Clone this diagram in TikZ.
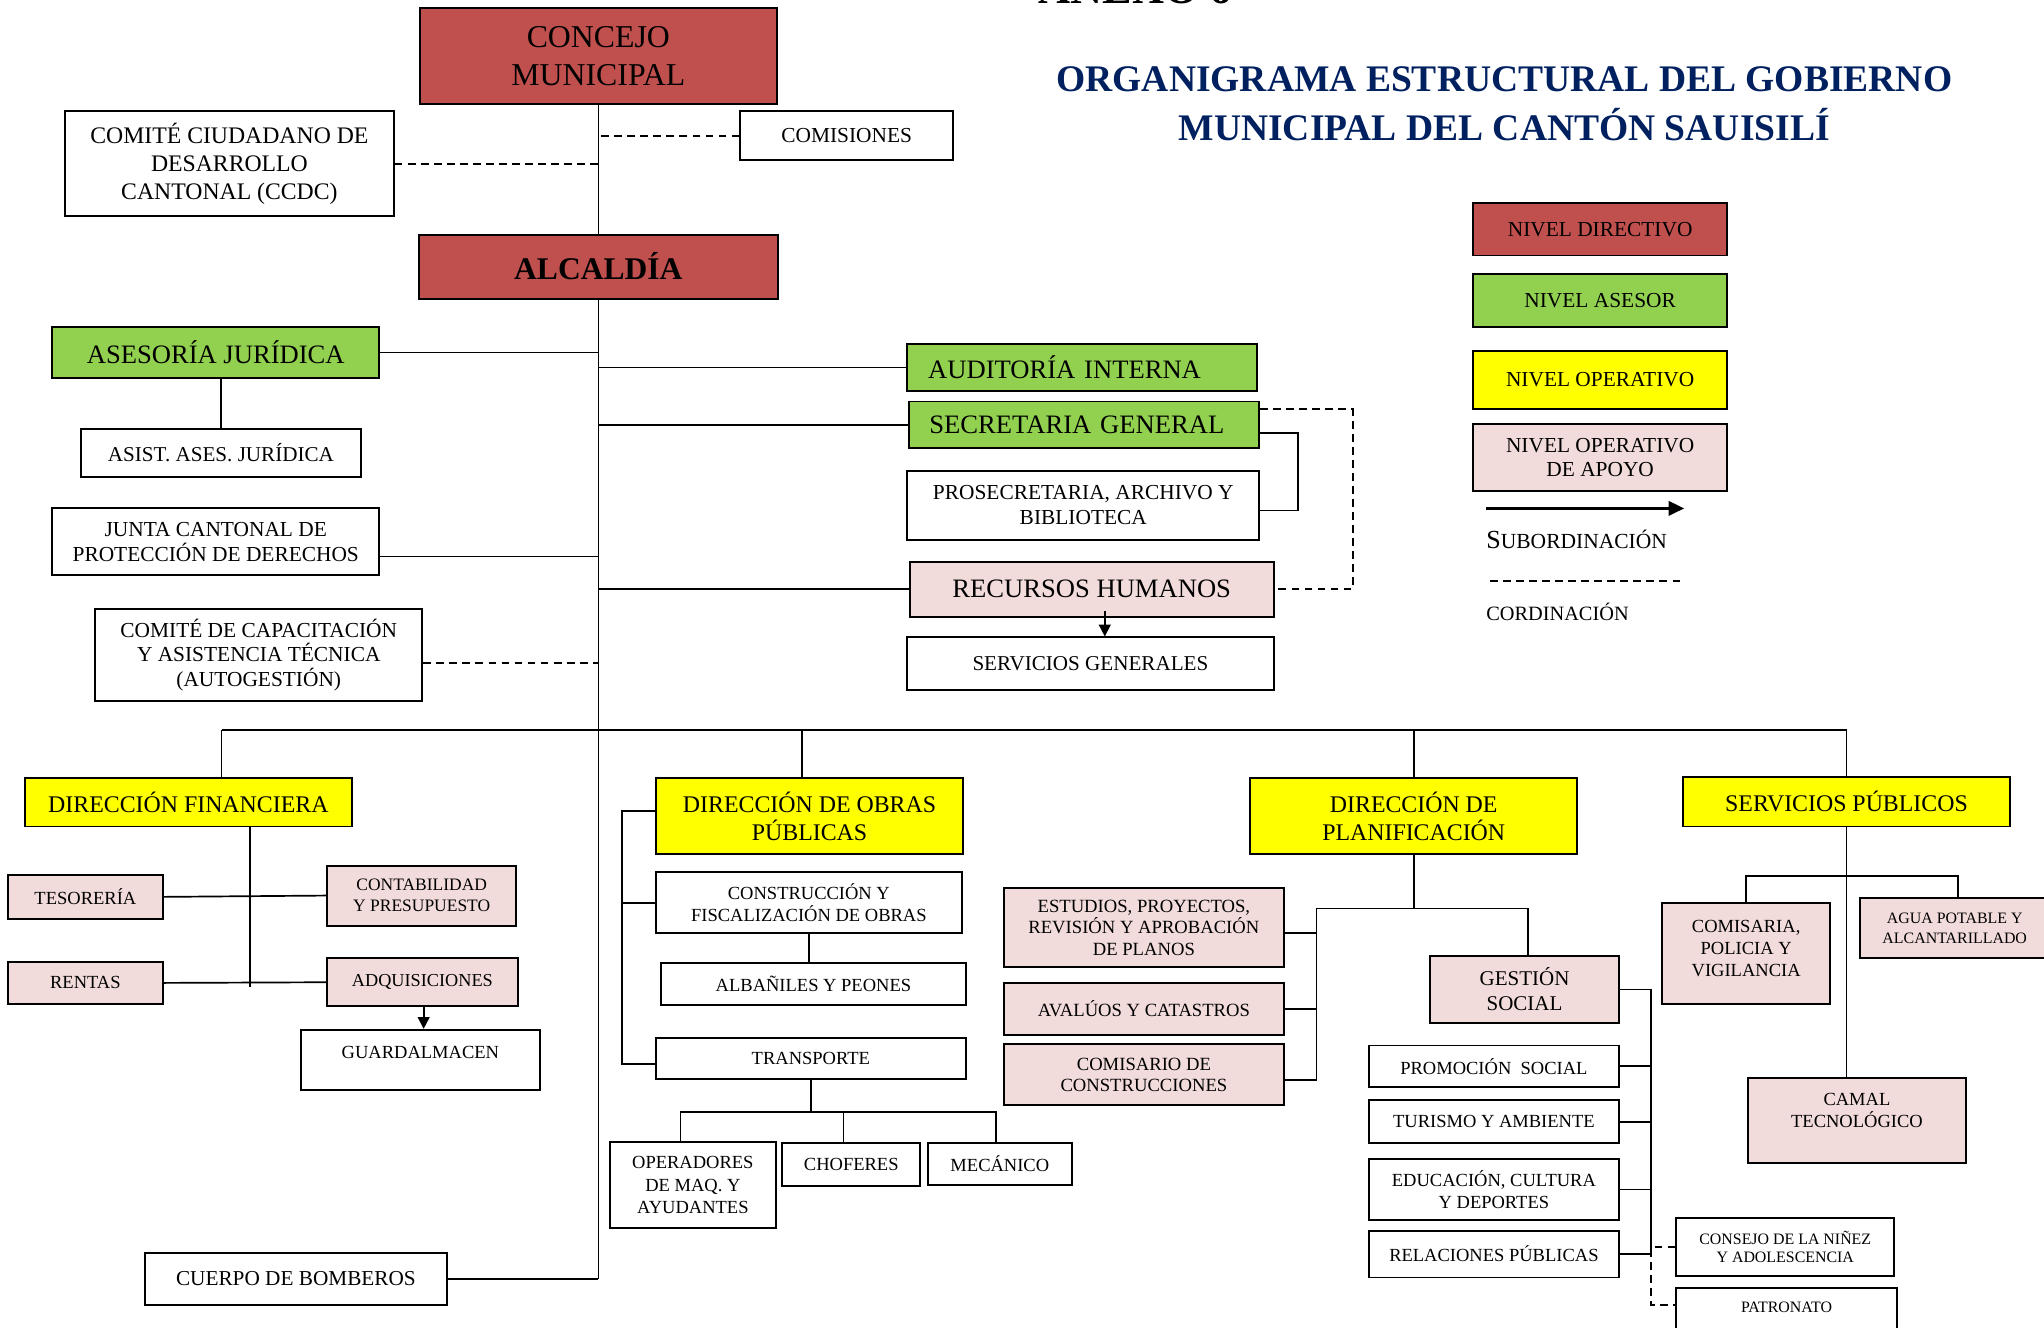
\documentclass[tikz,border=0pt]{standalone}
\usepackage{fontspec}
\setmainfont{Liberation Serif}
\usetikzlibrary{arrows.meta}
\definecolor{rojo}{HTML}{C0504D}
\definecolor{verde}{HTML}{92D050}
\definecolor{amarillo}{HTML}{FFFF00}
\definecolor{rosa}{HTML}{F2DCDB}
\definecolor{azul}{HTML}{002060}

\begin{document}
\begin{tikzpicture}[x=1pt,y=-1pt,
	caja/.style={draw,line width=1.5pt,align=center,inner sep=0pt},
	linea/.style={line width=1.3pt},
	coord/.style={line width=1.5pt,dash pattern=on 6pt off 4pt},
	flecha/.style={line width=1.3pt,-{Triangle[length=9pt,width=9pt]}}]
	\newcommand{\tam}[2]{\fontsize{#1}{#2}\selectfont}
	\useasboundingbox (0,0) rectangle (1568,1018);
	\clip (0,0) rectangle (1568,1018);
	% titulo
	\node[anchor=base,font=\tam{34}{40}\bfseries] (anexo) at (871,3) {ANEXO 6};
	\node[anchor=base,font=\tam{28.8}{34}\bfseries,text=azul] (tit1) at (1154,70.5) {ORGANIGRAMA ESTRUCTURAL DEL GOBIERNO};
	\node[anchor=base,font=\tam{28.8}{34}\bfseries,text=azul] (tit2) at (1154,107.5) {MUNICIPAL DEL CANTÓN SAUISILÍ};
	% nivel directivo
	\node[caja,fill=rojo,minimum width=274pt,minimum height=74pt,font=\tam{24.4}{29}] (concejo) at (459,43) {CONCEJO\\MUNICIPAL};
	\node[caja,minimum width=252pt,minimum height=81pt,font=\tam{18.2}{21.5}] (ccdc) at (176,125.5) {COMITÉ CIUDADANO DE\\DESARROLLO\\CANTONAL (CCDC)};
	\node[caja,minimum width=163pt,minimum height=38pt,font=\tam{16.4}{19}] (comisiones) at (649.5,104) {COMISIONES};
	\node[caja,fill=rojo,minimum width=275pt,minimum height=49pt,font=\tam{24.2}{28}\bfseries] (alcaldia) at (459,204.5) {ALCALDÍA};
	% asesores
	\node[caja,fill=verde,minimum width=251pt,minimum height=39pt,font=\tam{20.4}{24}] (asesoria) at (165.5,270.5) {ASESORÍA JURÍDICA};
	\node[caja,minimum width=215pt,minimum height=37pt,font=\tam{16.2}{19}] (asist) at (169.5,347.5) {ASIST. ASES. JURÍDICA};
	\node[caja,minimum width=251pt,minimum height=51pt,font=\tam{16.4}{19}] (junta) at (165.5,415.5) {JUNTA CANTONAL DE\\PROTECCIÓN DE DERECHOS};
	\node[caja,minimum width=251pt,minimum height=71pt,font=\tam{16.4}{19}] (comitecap) at (198.5,502.5) {COMITÉ DE CAPACITACIÓN\\Y ASISTENCIA TÉCNICA\\(AUTOGESTIÓN)};
	\node[caja,fill=verde,inner xsep=16pt,text width=236pt,align=left,minimum height=36pt,font=\tam{20.4}{24}] (auditoria) at (830,282) {AUDITORÍA INTERNA};
	\node[caja,fill=verde,inner xsep=16pt,text width=237pt,align=left,minimum height=36pt,font=\tam{20.4}{24}] (secretaria) at (831.5,326) {SECRETARIA GENERAL};
	\node[caja,minimum width=270pt,minimum height=53pt,font=\tam{16.4}{19}] (prosec) at (831,387.5) {PROSECRETARIA, ARCHIVO Y\\BIBLIOTECA};
	\node[caja,fill=rosa,minimum width=279pt,minimum height=42pt,font=\tam{20.4}{24}] (rrhh) at (837.5,452) {RECURSOS HUMANOS};
	\node[caja,minimum width=281pt,minimum height=40pt,font=\tam{16.2}{19}] (servgen) at (836.5,509) {SERVICIOS GENERALES};
	% leyenda
	\node[caja,fill=rojo,minimum width=195pt,minimum height=40pt,font=\tam{16.4}{19}] (leyDir) at (1227.5,176) {NIVEL DIRECTIVO};
	\node[caja,fill=verde,minimum width=195pt,minimum height=41pt,font=\tam{16.4}{19}] (leyAse) at (1227.5,230.5) {NIVEL ASESOR};
	\node[caja,fill=amarillo,minimum width=195pt,minimum height=45pt,font=\tam{16.4}{19}] (leyOpe) at (1227.5,291.5) {NIVEL OPERATIVO};
	\node[caja,fill=rosa,minimum width=195pt,minimum height=52pt,font=\tam{16.4}{19}] (leyApo) at (1227.5,351) {NIVEL OPERATIVO\\DE APOYO};
	\coordinate (subA) at (1140,390);
	\coordinate (subB) at (1292,390);
	\draw[line width=2pt,-{Triangle[length=12pt,width=11pt]}] (subA) -- (subB);
	\node[anchor=base west,inner sep=0pt] (subord) at (1140,421) {{\tam{20}{24}S}{\tam{16.5}{20}UBORDINACIÓN}};
	\coordinate (corA) at (1143,446);
	\coordinate (corB) at (1290,446);
	\draw[coord] (corA) -- (corB);
	\node[anchor=base west,inner sep=0pt,font=\tam{15.6}{19}] (cordin) at (1140,476) {CORDINACIÓN};
	% direcciones
	\node[caja,fill=amarillo,minimum width=251pt,minimum height=37pt,font=\tam{18.3}{21.5}] (financiera) at (144.5,615.5) {DIRECCIÓN FINANCIERA};
	\node[caja,fill=rosa,minimum width=119pt,minimum height=34pt,font=\tam{14.2}{17}] (tesoreria) at (65.5,688) {TESORERÍA};
	\node[caja,fill=rosa,minimum width=145pt,minimum height=46pt,font=\tam{13.4}{16}] (contabilidad) at (323.5,687) {CONTABILIDAD\\Y PRESUPUESTO};
	\node[caja,fill=rosa,minimum width=119pt,minimum height=32pt,font=\tam{14.2}{17}] (rentas) at (65.5,754) {RENTAS};
	\node[caja,fill=rosa,minimum width=146pt,minimum height=37pt,font=\tam{14}{17}] (adquisiciones) at (324,753.5) {ADQUISICIONES};
	\node[caja,minimum width=183pt,minimum height=46pt,text depth=12pt,font=\tam{14.2}{17}] (guardalmacen) at (322.5,813) {GUARDALMACEN};
	\node[caja,fill=amarillo,minimum width=236pt,minimum height=58pt,font=\tam{18.3}{21.5}] (obras) at (621,626) {DIRECCIÓN DE OBRAS\\PÚBLICAS};
	\node[caja,minimum width=235pt,minimum height=47pt,font=\tam{14.2}{16.5}] (construccion) at (620.5,692.5) {CONSTRUCCIÓN Y\\FISCALIZACIÓN DE OBRAS};
	\node[caja,minimum width=234pt,minimum height=32pt,font=\tam{14.2}{17}] (albaniles) at (624,755) {ALBAÑILES Y PEONES};
	\node[caja,minimum width=238pt,minimum height=32pt,font=\tam{14.2}{17}] (transporte) at (622,812) {TRANSPORTE};
	\node[caja,minimum width=127pt,minimum height=66pt,font=\tam{14.2}{17}] (operadores) at (531.5,909) {OPERADORES\\DE MAQ. Y\\AYUDANTES};
	\node[caja,minimum width=106pt,minimum height=33pt,font=\tam{14.2}{17}] (choferes) at (653,893.5) {CHOFERES};
	\node[caja,minimum width=110pt,minimum height=32pt,font=\tam{14.2}{17}] (mecanico) at (767,893) {MECÁNICO};
	\node[caja,minimum width=232pt,minimum height=40pt,font=\tam{16.3}{19}] (bomberos) at (227,981) {CUERPO DE BOMBEROS};
	\node[caja,fill=amarillo,minimum width=251pt,minimum height=58pt,font=\tam{18.3}{21.5}] (planificacion) at (1084.5,626) {DIRECCIÓN DE\\PLANIFICACIÓN};
	\node[caja,fill=rosa,minimum width=215pt,minimum height=61pt,font=\tam{14.3}{16.5}] (estudios) at (877.5,711.5) {ESTUDIOS, PROYECTOS,\\REVISIÓN Y APROBACIÓN\\DE PLANOS};
	\node[caja,fill=rosa,minimum width=215pt,minimum height=40pt,font=\tam{14.3}{17}] (avaluos) at (877.5,774) {AVALÚOS Y CATASTROS};
	\node[caja,fill=rosa,minimum width=215pt,minimum height=47pt,font=\tam{14.3}{16.5}] (comisario) at (877.5,824.5) {COMISARIO DE\\CONSTRUCCIONES};
	\node[caja,fill=rosa,minimum width=145pt,minimum height=52pt,font=\tam{16.1}{19}] (gestion) at (1169.5,759) {GESTIÓN\\SOCIAL};
	\node[caja,minimum width=192pt,minimum height=32pt,font=\tam{14.2}{17}] (promocion) at (1146,818) {PROMOCIÓN~ SOCIAL};
	\node[caja,minimum width=192pt,minimum height=33pt,font=\tam{14.2}{17}] (turismo) at (1146,860.5) {TURISMO Y AMBIENTE};
	\node[caja,minimum width=192pt,minimum height=47pt,font=\tam{14.2}{17}] (educacion) at (1146,912.5) {EDUCACIÓN, CULTURA\\Y DEPORTES};
	\node[caja,minimum width=192pt,minimum height=36pt,font=\tam{14.2}{17}] (relaciones) at (1146,962) {RELACIONES PÚBLICAS};
	\node[caja,minimum width=167pt,minimum height=45pt,font=\tam{12.2}{14.5}] (consejo) at (1369.5,956.5) {CONSEJO DE LA NIÑEZ\\Y ADOLESCENCIA};
	\node[caja,minimum width=169pt,minimum height=36pt,text depth=6pt,font=\tam{12.2}{14.5}] (patronato) at (1370.5,1006) {PATRONATO};
	\node[caja,fill=amarillo,minimum width=251pt,minimum height=38pt,font=\tam{18.3}{21.5}] (servpublicos) at (1416.5,615) {SERVICIOS PÚBLICOS};
	\node[caja,fill=rosa,minimum width=129pt,minimum height=77pt,text depth=8pt,font=\tam{14.2}{16.5}] (comisaria) at (1339.5,731.5) {COMISARIA,\\POLICIA Y\\VIGILANCIA};
	\node[caja,fill=rosa,minimum width=145pt,minimum height=46pt,font=\tam{12.2}{15}] (agua) at (1499.5,712) {AGUA POTABLE Y\\ALCANTARILLADO};
	\node[caja,fill=rosa,minimum width=167pt,minimum height=65pt,text depth=16pt,font=\tam{14.2}{17}] (camal) at (1424.5,859.5) {CAMAL\\TECNOLÓGICO};
	% tronco
	\draw[linea] (concejo.south) -- (concejo.south |- alcaldia.north);
	\draw[coord] (comisiones.west) -- (comisiones.west -| concejo.south);
	\draw[coord] (ccdc.east) -- (ccdc.east -| concejo.south);
	\coordinate (base) at (bomberos.east -| alcaldia.south);
	\draw[linea] (alcaldia.south) -- (base);
	\draw[linea] (bomberos.east) -- (base);
	\draw[linea] (asesoria.east) -- (asesoria.east -| alcaldia.south);
	\draw[linea] (asesoria.south -| asist.north) -- (asist.north);
	\draw[linea] ([yshift=-11.5pt]junta.east) coordinate (j) -- (j -| alcaldia.south);
	\draw[coord] ([yshift=-6pt]comitecap.east) coordinate (k) -- (k -| alcaldia.south);
	\draw[linea] (auditoria.west) -- (auditoria.west -| alcaldia.south);
	\draw[linea] (secretaria.west) -- (secretaria.west -| alcaldia.south);
	\draw[linea] (rrhh.west) -- (rrhh.west -| alcaldia.south);
	\draw[linea] ([yshift=-6pt]secretaria.east) -- ++(29,0) |- ([yshift=-4pt]prosec.east);
	\draw[coord] ([yshift=12pt]secretaria.east) -- ++(71,0) |- (rrhh.east);
	\draw[flecha] ([xshift=10pt,yshift=5pt]rrhh.south) coordinate (r) -- (r |- servgen.north);
	% barra de direcciones
	\coordinate (dF) at (170,560);
	\coordinate (dO) at (615,560);
	\coordinate (dP) at (planificacion.north |- dF);
	\coordinate (dS) at (servpublicos.north |- dF);
	\draw[linea] (dF) -- (dS);
	\draw[linea] (dF) -- (dF |- financiera.north);
	\draw[linea] (dO) -- (dO |- obras.north);
	\draw[linea] (dP) -- (planificacion.north);
	\draw[linea] (dS) -- (servpublicos.north);
	% financiera
	\coordinate (fin) at (192,634);
	\draw[linea] (fin) -- ([yshift=-3pt]fin |- rentas.east);
	\draw[linea] (tesoreria.east) -- (contabilidad.west);
	\draw[linea] (rentas.east) -- (adquisiciones.west);
	\draw[flecha] ([xshift=1pt]adquisiciones.south) coordinate (q) -- (q |- guardalmacen.north);
	% obras publicas
	\draw[linea] ([yshift=4pt]obras.west) -- ++(-25,0) coordinate (ox) |- ([yshift=-4pt]transporte.west);
	\draw[linea] (construccion.west) -- (construccion.west -| ox);
	\draw[linea] (construccion.south) -- (construccion.south |- albaniles.north);
	\coordinate (tb) at (623,853);
	\draw[linea] (tb -| transporte.south) -- (transporte.south);
	\draw[linea] ([xshift=-9.5pt]operadores.north) |- (tb) -| ([xshift=-3pt]mecanico.north);
	\draw[linea] ([xshift=-6pt]choferes.north) coordinate (c) -- (c |- tb);
	% planificacion
	\coordinate (pl) at (1010,697);
	\draw[linea] (planificacion.south) -- (planificacion.south |- pl);
	\draw[linea] ([xshift=2.5pt]gestion.north) |- (pl) |- ([yshift=-4pt]comisario.east);
	\draw[linea] ([yshift=-4pt]estudios.east) -- ([yshift=-4pt]estudios.east -| pl);
	\draw[linea] (avaluos.east) -- (avaluos.east -| pl);
	\draw[linea] (gestion.east) -- ++(24,0) coordinate (gx) |- (relaciones.east);
	\draw[linea] (promocion.east) -- (promocion.east -| gx);
	\draw[linea] (turismo.east) -- (turismo.east -| gx);
	\draw[linea] (educacion.east) -- (educacion.east -| gx);
	\draw[coord] (consejo.west) -- (consejo.west -| gx) |- ([yshift=5pt]patronato.west);
	% servicios publicos
	\draw[linea] (servpublicos.south) -- (servpublicos.south |- camal.north);
	\draw[linea] (comisaria.north) -- ++(0,-20) -| ([xshift=2.5pt]agua.north);
\end{tikzpicture}
\end{document}
